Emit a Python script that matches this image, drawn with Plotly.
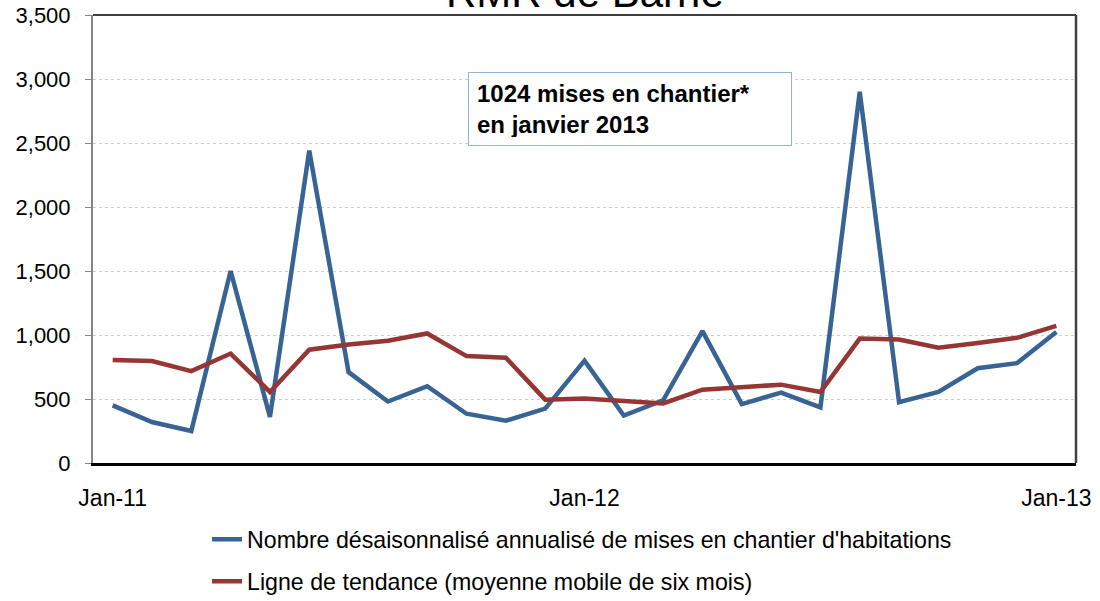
import plotly.graph_objects as go

months = ["Jan", "Feb", "Mar", "Apr", "May", "Jun", "Jul", "Aug", "Sep", "Oct", "Nov", "Dec"]
categories = [f"{m}-{y}" for y in ["11", "12"] for m in months] + ["Jan-13"]

starts = [450, 320, 250, 1500, 360, 2440, 710, 480, 600, 385, 330, 425,
          800, 370, 490, 1030, 460, 550, 435, 2900, 475, 555, 740, 780, 1024]
trend = [805, 797, 718, 855, 555, 885, 925, 955, 1012, 835, 823, 495,
         503, 484, 465, 573, 590, 612, 555, 972, 965, 900, 938, 978, 1072]

tick_labels = ["Jan-11", "Jan-12", "Jan-13"]
y_ticks = [0, 500, 1000, 1500, 2000, 2500, 3000, 3500]

series_name_1 = "Nombre désaisonnalisé annualisé de mises en chantier d'habitations"
series_name_2 = "Ligne de tendance (moyenne mobile de six mois)"
title_text = "RMR de Barrie"
note_text = "<b>1024 mises en chantier*<br>en janvier 2013</b>"

font_family = "Liberation Sans, Arial, sans-serif"

fig = go.Figure()
fig.add_trace(go.Scatter(x=categories, y=starts, mode="lines", name=series_name_1,
                         line=dict(color="#386395", width=4.5), legend="legend"))
fig.add_trace(go.Scatter(x=categories, y=trend, mode="lines", name=series_name_2,
                         line=dict(color="#963634", width=4.5), legend="legend2"))

fig.update_layout(
    width=1100, height=601,
    margin=dict(l=93, r=24, t=15, b=138, autoexpand=False),
    paper_bgcolor="white", plot_bgcolor="white",
    font=dict(family=font_family, size=22, color="black"),
    showlegend=True,
    legend=dict(x=0.116, y=-0.122, xanchor="left", yanchor="top",
                font=dict(size=23.2), bgcolor="rgba(0,0,0,0)"),
    legend2=dict(x=0.116, y=-0.216, xanchor="left", yanchor="top",
                 font=dict(size=23.2), bgcolor="rgba(0,0,0,0)"),
    xaxis=dict(type="category", categoryorder="array", categoryarray=categories,
               range=[-0.5, len(categories) - 0.5], automargin=False,
               tickmode="array", tickvals=tick_labels, ticktext=tick_labels,
               showgrid=False, showline=True, linecolor="black", linewidth=2.5,
               ticks="", tickfont=dict(size=23), ticklabelstandoff=13),
    yaxis=dict(range=[0, 3500], tickmode="array", tickvals=y_ticks, automargin=False,
               tickformat=",", showgrid=True, gridcolor="#cfcfcf", griddash="dot",
               gridwidth=1, showline=True, linecolor="#868686", linewidth=2,
               ticks="outside", ticklen=6, tickcolor="#868686",
               tickfont=dict(size=22), ticklabelstandoff=10, zeroline=False),
)

fig.add_shape(type="line", xref="paper", yref="paper", x0=0, x1=1, y0=1, y1=1,
              line=dict(color="#404040", width=2))
fig.add_shape(type="line", xref="paper", yref="paper", x0=1, x1=1, y0=0, y1=1,
              line=dict(color="#404040", width=2.5))

fig.add_annotation(text=title_text, xref="paper", yref="paper", x=0.5, y=1,
                   xanchor="center", yanchor="bottom", yshift=-3, showarrow=False,
                   font=dict(size=42, family=font_family))

fig.add_annotation(text=note_text, xref="paper", yref="paper", x=0.3815, y=0.8728,
                   xanchor="left", yanchor="top", align="left", valign="middle",
                   showarrow=False, font=dict(size=24, family=font_family),
                   bordercolor="#8db3e2", borderwidth=1, borderpad=8,
                   bgcolor="white", width=306, height=56)

fig.write_html("out.html", config={"displayModeBar": False},
               post_script="document.body.style.margin='0';")
